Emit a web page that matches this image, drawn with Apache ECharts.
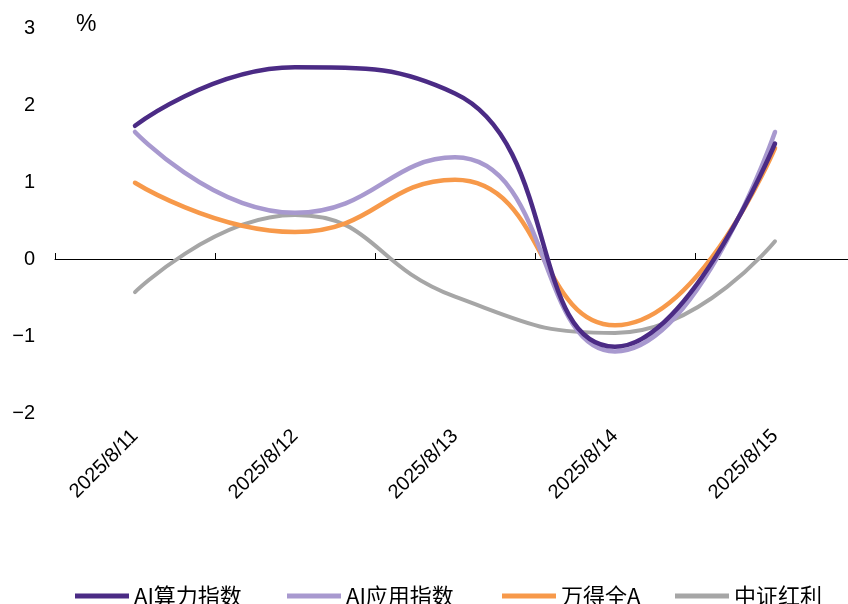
<!DOCTYPE html>
<html>
<head>
<meta charset="utf-8">
<script src="https://cdn.jsdelivr.net/npm/echarts@6/dist/echarts.min.js"></script>
<style>
  html, body { margin: 0; padding: 0; background: #fff; }
  #main { width: 848px; height: 604px; }
</style>
</head>
<body>
<div id="main"></div>
<script>
// 日期
const categories = ['2025/8/11', '2025/8/12', '2025/8/13', '2025/8/14', '2025/8/15'];
// 各指数涨跌幅（%）
const aiCompute = [1.73, 2.49, 2.15, -1.14, 1.50];
const aiApp = [1.65, 0.60, 1.32, -1.20, 1.65];
const windA = [0.99, 0.35, 1.03, -0.86, 1.44];
const dividend = [-0.43, 0.57, -0.49, -0.96, 0.23];
const seriesNames = ['AI算力指数', 'AI应用指数', '万得全A', '中证红利'];
const colors = ['#4B2B85', '#A899CF', '#F7994A', '#A6A6A6'];
const legendLeft = [70, 282, 497, 670];

const myEChart = echarts.init(document.getElementById('main'));
const allData = [aiCompute, aiApp, windA, dividend];

const option = {
  animation: false,
  title: {
    text: '%',
    left: 71,
    top: 8,
    textStyle: { fontSize: 23, fontWeight: 'normal', color: '#000', fontFamily: 'Liberation Sans' }
  },
  // 四个图例分开放，位置更好对齐
  legend: seriesNames.map((name, i) => ({
    data: [name],
    left: legendLeft[i],
    top: 580,
    icon: 'rect',
    itemWidth: 54,
    itemHeight: 5,
    itemGap: 0,
    textStyle: { fontSize: 22, color: '#000', fontFamily: 'Noto Sans CJK SC' }
  })),
  grid: {
    left: 55,
    top: 28,
    width: 800,
    bottom: 191,
    containLabel: false,
    outerBoundsMode: 'none'
  },
  xAxis: [
    {
      type: 'category',
      data: categories,
      boundaryGap: true,
      axisLine: { onZero: true, lineStyle: { color: '#000', width: 1 } },
      axisTick: { show: true, inside: true, length: 6, interval: 0, lineStyle: { color: '#000' } },
      axisLabel: { show: false }
    },
    {
      type: 'category',
      data: categories,
      position: 'bottom',
      boundaryGap: true,
      axisLine: { show: false, onZero: false },
      axisTick: { show: false },
      axisLabel: {
        rotate: 45,
        interval: 0,
        margin: 20,
        fontSize: 20,
        color: '#000',
        fontFamily: 'Liberation Sans'
      }
    }
  ],
  yAxis: {
    type: 'value',
    min: -2,
    max: 3,
    interval: 1,
    axisLine: { show: false },
    axisTick: { show: false },
    splitLine: { show: false },
    axisLabel: {
      margin: 20,
      fontSize: 20,
      color: '#000',
      fontFamily: 'Liberation Sans',
      formatter: v => String(v).replace('-', '\u2212')
    }
  },
  series: seriesNames.map((name, i) => ({
    name: name,
    type: 'line',
    xAxisIndex: 0,
    data: allData[i],
    smooth: 0.5,
    symbol: 'none',
    lineStyle: { color: colors[i], width: i === 3 ? 4 : 4.5, cap: 'round' },
    itemStyle: { color: colors[i] },
    z: 10 - i,
    // 零轴线补到右边缘
    markLine: i === 3 ? {
      silent: true,
      symbol: ['none', 'none'],
      label: { show: false },
      lineStyle: { color: '#000', width: 1, type: 'solid' },
      data: [{ yAxis: 0 }]
    } : undefined
  }))
};
myEChart.setOption(option);
window.addEventListener('resize', function () {
  myEChart.resize();
});
</script>
</body>
</html>
